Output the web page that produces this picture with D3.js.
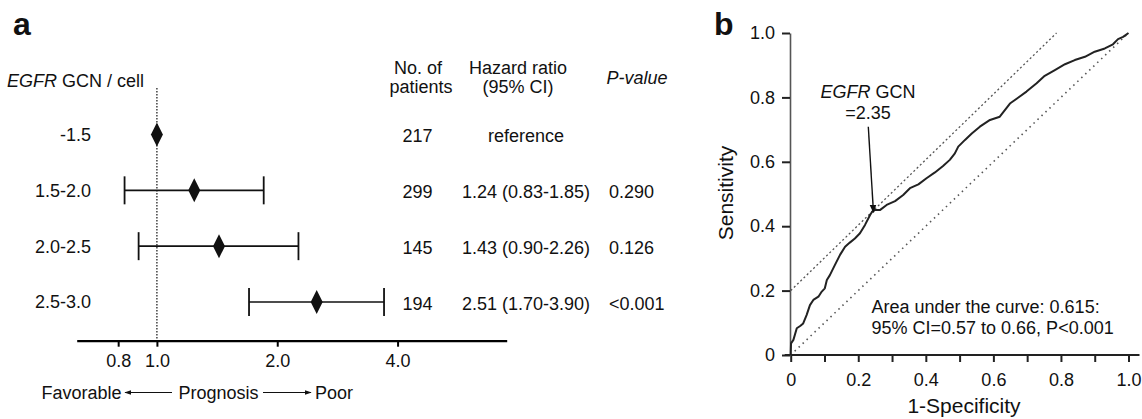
<!DOCTYPE html>
<html>
<head>
<meta charset="utf-8">
<script src="https://cdn.jsdelivr.net/npm/d3@7"></script>
<style>
  html, body { margin: 0; padding: 0; background: #fff; }
  svg { display: block; font-family: "Liberation Sans", Arial, Helvetica, sans-serif; }
  text { fill: #111; }
</style>
</head>
<body>
<svg id="chart" width="1142" height="419"></svg>
<script>
// ---------- Panel a data ----------
const rowLabels = ["-1.5", "1.5-2.0", "2.0-2.5", "2.5-3.0"];
const hazardRatio = [1.0, 1.24, 1.43, 2.51];
const ciLow = [null, 0.83, 0.90, 1.70];
const ciHigh = [null, 1.85, 2.26, 3.70]; // upper whisker as drawn
const nPatients = ["217", "299", "145", "194"];
const hrText = ["reference", "1.24 (0.83-1.85)", "1.43 (0.90-2.26)", "2.51 (1.70-3.90)"];
const pText = ["", "0.290", "0.126", "<0.001"];
const forestTicks = [0.8, 1.0, 2.0, 4.0];

// ---------- Panel b data ----------
const rocFpr = [0, 0.001, 0.008, 0.018, 0.028, 0.037, 0.047, 0.057, 0.067, 0.082, 0.092, 0.101, 0.107, 0.116,
  0.131, 0.146, 0.161, 0.175, 0.190, 0.205, 0.220, 0.235, 0.241, 0.249, 0.264, 0.284, 0.309, 0.333, 0.353,
  0.378, 0.402, 0.427, 0.451, 0.471, 0.486, 0.496, 0.516, 0.536, 0.560, 0.590, 0.619, 0.649, 0.673, 0.698,
  0.728, 0.752, 0.782, 0.812, 0.841, 0.871, 0.900, 0.930, 0.954, 0.969, 0.984, 1.0];
const rocTpr = [0, 0.036, 0.047, 0.083, 0.090, 0.098, 0.124, 0.155, 0.171, 0.181, 0.197, 0.207, 0.233, 0.248,
  0.280, 0.311, 0.336, 0.349, 0.362, 0.378, 0.404, 0.435, 0.445, 0.450, 0.450, 0.466, 0.478, 0.497, 0.518,
  0.530, 0.549, 0.567, 0.587, 0.606, 0.626, 0.647, 0.668, 0.688, 0.709, 0.730, 0.740, 0.781, 0.799, 0.818,
  0.844, 0.867, 0.885, 0.903, 0.916, 0.926, 0.942, 0.952, 0.965, 0.981, 0.988, 1.0];
const rocXTicks = [0, 0.1, 0.2, 0.3, 0.4, 0.5, 0.6, 0.7, 0.8, 0.9, 1.0];
const rocYTicks = [0, 0.2, 0.4, 0.6, 0.8, 1.0];
const chanceLine = [[0, 0], [1, 1]];
const tangentLine = [[0, 0.2], [0.787, 1.0]];
const cutoff = [0.245, 0.44];

const svg = d3.select("#chart");
const FS = 18;

// ================= Panel a =================
const ga = svg.append("g");
ga.append("text").attr("x", 13).attr("y", 35).attr("font-size", 32).attr("font-weight", "bold").text("a");

const xa = d3.scaleLog().domain([0.63, 7.5]).range([76.7, 506.7]);
const ya = d3.scaleLinear().domain([0, 3]).range([134.5, 302]);
const axisY = 340.7;

// header
const hdr = ga.append("text").attr("x", 7).attr("y", 87).attr("font-size", FS);
hdr.append("tspan").attr("font-style", "italic").text("EGFR");
hdr.append("tspan").text(" GCN / cell");

ga.append("text").attr("x", 418).attr("y", 74).attr("font-size", FS).attr("text-anchor", "middle").text("No. of");
ga.append("text").attr("x", 421).attr("y", 92.5).attr("font-size", FS).attr("text-anchor", "middle").text("patients");
ga.append("text").attr("x", 518).attr("y", 74).attr("font-size", FS).attr("text-anchor", "middle").text("Hazard ratio");
ga.append("text").attr("x", 518).attr("y", 93).attr("font-size", FS).attr("text-anchor", "middle").text("(95% CI)");
ga.append("text").attr("x", 637).attr("y", 84).attr("font-size", FS).attr("text-anchor", "middle").attr("font-style", "italic").text("P-value");

// reference dotted line
ga.append("line").attr("x1", xa(1)).attr("x2", xa(1)).attr("y1", 88).attr("y2", axisY)
  .attr("stroke", "#222").attr("stroke-width", 1.3).attr("stroke-dasharray", "1.5,1.5");

// axis
const axA = ga.append("g").attr("transform", `translate(0,${axisY})`)
  .call(d3.axisBottom(xa).tickValues(forestTicks).tickFormat(d3.format(".1f")).tickSize(6).tickSizeOuter(0).tickPadding(8));
axA.select(".domain").attr("stroke", "#000").attr("stroke-width", 2.2);
axA.selectAll(".tick line").attr("stroke", "#000").attr("stroke-width", 2);
axA.selectAll(".tick text").attr("font-size", FS).attr("font-family", null).attr("fill", "#111");

// rows
rowLabels.forEach((lab, i) => {
  const cy = ya(i);
  ga.append("text").attr("x", 91).attr("y", cy).attr("dy", "0.36em").attr("font-size", FS)
    .attr("text-anchor", "end").text(lab);
  if (ciLow[i] != null) {
    ga.append("line").attr("x1", xa(ciLow[i])).attr("x2", xa(ciHigh[i])).attr("y1", cy).attr("y2", cy)
      .attr("stroke", "#111").attr("stroke-width", 1.6);
    [ciLow[i], ciHigh[i]].forEach(v => {
      ga.append("line").attr("x1", xa(v)).attr("x2", xa(v)).attr("y1", cy - 14).attr("y2", cy + 14)
        .attr("stroke", "#111").attr("stroke-width", 1.8);
    });
  }
  const cx = xa(hazardRatio[i]);
  ga.append("path").attr("d", `M${cx},${cy - 12}L${cx + 6},${cy}L${cx},${cy + 12}L${cx - 6},${cy}Z`).attr("fill", "#111");

  ga.append("text").attr("x", 417.5).attr("y", cy + 1.5).attr("dy", "0.36em").attr("font-size", FS)
    .attr("text-anchor", "middle").text(nPatients[i]);
  ga.append("text").attr("x", 526).attr("y", cy + 1.5).attr("dy", "0.36em").attr("font-size", FS)
    .attr("text-anchor", "middle").text(hrText[i]);
  ga.append("text").attr("x", 609).attr("y", cy + 1.5).attr("dy", "0.36em").attr("font-size", FS)
    .attr("text-anchor", "start").text(pText[i]);
});

// prognosis legend
const defs = svg.append("defs");
defs.append("marker").attr("id", "ah").attr("viewBox", "0 0 10 10").attr("refX", 9).attr("refY", 5)
  .attr("markerWidth", 7).attr("markerHeight", 7).attr("orient", "auto-start-reverse")
  .append("path").attr("d", "M0,1.5L10,5L0,8.5Z").attr("fill", "#111");
defs.append("marker").attr("id", "ah2").attr("viewBox", "0 0 10 10").attr("refX", 9).attr("refY", 5)
  .attr("markerWidth", 6).attr("markerHeight", 6).attr("orient", "auto")
  .append("path").attr("d", "M0,1L10,5L0,9Z").attr("fill", "#111");

ga.append("text").attr("x", 41.5).attr("y", 399).attr("font-size", FS).text("Favorable");
ga.append("text").attr("x", 178.5).attr("y", 399).attr("font-size", FS).text("Prognosis");
ga.append("text").attr("x", 315).attr("y", 399).attr("font-size", FS).text("Poor");
ga.append("line").attr("x1", 172).attr("x2", 125).attr("y1", 392.5).attr("y2", 392.5)
  .attr("stroke", "#111").attr("stroke-width", 1).attr("marker-end", "url(#ah)");
ga.append("line").attr("x1", 263).attr("x2", 311).attr("y1", 392.5).attr("y2", 392.5)
  .attr("stroke", "#111").attr("stroke-width", 1).attr("marker-end", "url(#ah)");

// ================= Panel b =================
const gb = svg.append("g");
gb.append("text").attr("x", 714).attr("y", 35).attr("font-size", 32).attr("font-weight", "bold").text("b");

const xb = d3.scaleLinear().domain([0, 1]).range([790.7, 1128.5]);
const yb = d3.scaleLinear().domain([0, 1]).range([355, 33]);

// reference lines
const line = d3.line().x(d => xb(d[0])).y(d => yb(d[1]));
gb.append("path").attr("d", line(tangentLine)).attr("fill", "none")
  .attr("stroke", "#555").attr("stroke-width", 1.3).attr("stroke-dasharray", "2,2.5");
gb.append("path").attr("d", line(chanceLine)).attr("fill", "none")
  .attr("stroke", "#555").attr("stroke-width", 1.6).attr("stroke-dasharray", "1.5,4");

// axes
const axX = gb.append("g").attr("transform", `translate(0,${yb(0)})`)
  .call(d3.axisBottom(xb).tickValues(rocXTicks)
    .tickFormat(d => (Math.round(d * 10) % 2 === 0) ? (d === 0 ? "0" : d3.format(".1f")(d)) : "")
    .tickSize(7).tickSizeOuter(0).tickPadding(11));
axX.select(".domain").remove();
axX.append("line").attr("x1", xb(0) - 6).attr("x2", xb(1) + 11).attr("y1", 0).attr("y2", 0)
  .attr("stroke", "#222").attr("stroke-width", 2);
axX.selectAll(".tick line").attr("stroke", "#222").attr("stroke-width", 2);
axX.selectAll(".tick text").attr("font-size", FS).attr("font-family", null).attr("fill", "#111");

const axY = gb.append("g").attr("transform", `translate(${xb(0) - 0.7},0)`)
  .call(d3.axisLeft(yb).tickValues(rocYTicks)
    .tickFormat(d => d === 0 ? "0" : d3.format(".1f")(d))
    .tickSize(8).tickSizeOuter(0).tickPadding(7));
axY.select(".domain").attr("stroke", "#555").attr("stroke-width", 1.6);
axY.selectAll(".tick line").attr("stroke", "#222").attr("stroke-width", 2);
axY.selectAll(".tick text").attr("font-size", FS).attr("font-family", null).attr("fill", "#111");

// ROC curve
const rocData = rocFpr.map((f, i) => [f, rocTpr[i]]);
gb.append("path").attr("d", line(rocData)).attr("fill", "none")
  .attr("stroke", "#222").attr("stroke-width", 2).attr("stroke-linejoin", "round");

// axis titles
gb.append("text").attr("transform", `translate(733,193) rotate(-90)`).attr("font-size", 21)
  .attr("text-anchor", "middle").text("Sensitivity");
gb.append("text").attr("x", 964).attr("y", 413).attr("font-size", 21)
  .attr("text-anchor", "middle").text("1-Specificity");

// annotation
const ann = gb.append("text").attr("x", 868).attr("y", 98).attr("font-size", FS).attr("text-anchor", "middle");
ann.append("tspan").attr("font-style", "italic").text("EGFR");
ann.append("tspan").text(" GCN");
gb.append("text").attr("x", 868).attr("y", 119).attr("font-size", FS).attr("text-anchor", "middle").text("=2.35");
gb.append("line").attr("x1", 868.3).attr("y1", 126.7).attr("x2", xb(cutoff[0])).attr("y2", yb(cutoff[1]) - 1)
  .attr("stroke", "#111").attr("stroke-width", 1.4).attr("marker-end", "url(#ah2)");

gb.append("text").attr("x", 871.5).attr("y", 313).attr("font-size", FS).text("Area under the curve: 0.615:");
gb.append("text").attr("x", 871.5).attr("y", 334).attr("font-size", FS).text("95% CI=0.57 to 0.66, P<0.001");
</script>
</body>
</html>
